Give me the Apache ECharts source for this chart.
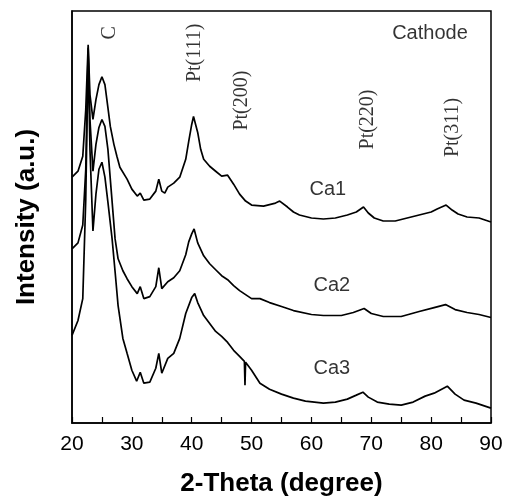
<!DOCTYPE html>
<html>
<head>
<meta charset="utf-8">
<script src="https://cdn.jsdelivr.net/npm/echarts@6/dist/echarts.min.js"></script>
<style>
  html, body { margin: 0; padding: 0; background: #fff; }
  #xrd { width: 507px; height: 502px; }
</style>
</head>
<body>
<div id="xrd"></div>
<script>
// XRD patterns of the cathode catalysts, curves stacked by hand offset (a.u.)
var theta1 = [20.0, 21.0, 21.8, 22.3, 22.7, 23.0, 23.5, 24.0, 24.5, 25.0, 25.5, 26.0, 26.4, 27.0, 27.5, 28.0, 29.2, 30.0, 30.9, 31.4, 32.0, 33.0, 34.0, 34.5, 35.0, 35.5, 36.0, 37.0, 38.0, 39.0, 39.5, 40.0, 40.3, 41.0, 41.5, 42.0, 43.0, 44.0, 45.0, 46.0, 47.0, 48.0, 49.0, 50.0, 52.0, 54.0, 54.7, 56.0, 57.0, 58.0, 60.0, 62.0, 64.0, 66.0, 67.5, 68.7, 69.5, 70.5, 72.0, 74.0, 76.0, 78.0, 80.0, 81.0, 82.5, 83.5, 84.5, 86.0, 88.0, 90.0];
var ca1 = [247, 253, 268, 315, 380, 330, 305, 325, 340, 348, 340, 317, 298, 280, 268, 257, 245, 235, 228, 231, 224, 225, 233, 245, 233, 231, 237, 241, 247, 265, 283, 300, 308, 292, 275, 265, 258, 253, 248, 249, 240, 230, 223, 219, 218, 221, 223, 217, 212, 209, 206, 205, 206, 209, 212, 217, 211, 206, 203, 203, 206, 209, 212, 215, 219, 214, 210, 207, 206, 202];

var theta2 = [20.0, 21.0, 21.8, 22.3, 22.7, 23.0, 23.5, 24.0, 24.5, 25.0, 25.5, 26.0, 26.6, 27.2, 27.7, 28.5, 29.2, 30.0, 30.9, 31.4, 32.0, 33.0, 34.0, 34.5, 35.0, 36.0, 37.0, 38.0, 39.0, 39.5, 40.0, 40.4, 41.0, 42.0, 43.0, 44.0, 45.0, 46.0, 47.0, 48.0, 50.0, 51.4, 53.0, 55.0, 57.0, 60.0, 62.0, 65.0, 67.0, 68.8, 70.0, 72.0, 75.0, 78.0, 80.5, 82.4, 84.0, 86.0, 88.0, 90.0];
var ca2 = [175, 181, 199, 255, 377, 305, 253, 280, 297, 305, 298, 275, 230, 185, 165, 153, 145, 137, 130, 137, 125, 127, 137, 156, 135, 142, 146, 153, 169, 182, 190, 195, 181, 168, 160, 154, 148, 144, 138, 133, 125, 125, 121, 117, 113, 109, 108, 108, 111, 115, 110, 107, 107, 112, 116, 119, 114, 111, 109, 106];

var theta3 = [20.0, 21.0, 21.8, 22.3, 22.7, 23.0, 23.5, 24.0, 24.5, 25.0, 25.5, 26.0, 26.7, 27.2, 27.7, 28.5, 29.2, 30.0, 30.8, 31.4, 32.0, 33.0, 34.0, 34.5, 35.0, 36.0, 37.0, 38.0, 39.0, 40.0, 40.5, 41.0, 42.0, 43.0, 44.0, 45.0, 46.0, 47.0, 48.0, 48.8, 48.9, 49.0, 50.0, 51.4, 53.0, 55.0, 57.0, 59.0, 62.0, 64.0, 66.0, 67.5, 68.6, 69.5, 71.0, 73.0, 75.0, 77.0, 79.0, 80.5, 82.7, 84.0, 85.5, 87.5, 90.0];
var ca3 = [88, 103, 125, 225, 370, 275, 193, 230, 255, 262, 247, 222, 185, 152, 118, 85, 70, 53, 42, 51, 40, 41, 55, 70, 50, 65, 70, 85, 110, 126, 130, 121, 108, 100, 92, 87, 81, 73, 67, 62, 38, 61, 53, 40, 34, 29, 25, 22, 20, 21, 24, 28, 31, 26, 21, 19, 18, 21, 27, 30, 37, 29, 23, 20, 15];

var xTicks = [20, 30, 40, 50, 60, 70, 80, 90];

// peak / sample labels: [2-theta, intensity, text, vertical?]
var annoTheta = [26.35, 40.55, 48.4, 69.45, 83.65, 79.8, 62.75, 63.4, 63.4];
var annoInt = [392, 372, 324, 305, 297, 391, 235, 138, 55];
var annoText = ['C', 'Pt(111)', 'Pt(200)', 'Pt(220)', 'Pt(311)', 'Cathode', 'Ca1', 'Ca2', 'Ca3'];
var annoVertical = [true, true, true, true, true, false, false, false, false];

(function() {
	var chart = echarts.init(document.getElementById('xrd'));

	function pairs(xs, ys) {
		var out = [];
		for (var i = 0; i < xs.length; i++) out.push([xs[i], ys[i]]);
		return out;
	}

	var labels = [];
	for (var i = 0; i < annoText.length; i++) {
		labels.push({
			value: [annoTheta[i], annoInt[i]],
			label: {
				formatter: annoText[i],
				rotate: annoVertical[i] ? 90 : 0,
				fontFamily: annoVertical[i] ? 'Liberation Serif' : 'Liberation Sans'
			}
		});
	}

	function curve(name, d) {
		return {
			name: name,
			type: 'line',
			data: d,
			showSymbol: false,
			lineStyle: { color: '#000', width: 1.7 },
			silent: true
		};
	}

	var option = {
		animation: false,
		grid: {
			left: 72, right: 16, top: 11, bottom: 77,
			show: true, borderColor: '#000', borderWidth: 1.5
		},
		xAxis: {
			type: 'value',
			min: 20, max: 90, interval: 10,
			name: '2-Theta (degree)',
			nameLocation: 'middle',
			nameGap: 48,
			nameTextStyle: { fontFamily: 'Liberation Sans', fontWeight: 'bold', fontSize: 26, color: '#000' },
			axisLine: { lineStyle: { color: '#000', width: 1.5 } },
			axisTick: { inside: true, length: 6, lineStyle: { color: '#000', width: 1.2 } },
			minorTick: { show: true, splitNumber: 2, length: 6, lineStyle: { color: '#000', width: 1.2 } },
			axisLabel: {
				fontFamily: 'Liberation Sans', fontSize: 21, color: '#000', margin: 11,
				formatter: function(v) { return xTicks.indexOf(v) >= 0 ? String(v) : ''; }
			},
			splitLine: { show: false }
		},
		yAxis: {
			type: 'value',
			min: 0, max: 414,
			name: 'Intensity (a.u.)',
			nameLocation: 'middle',
			nameGap: 32,
			nameTextStyle: { fontFamily: 'Liberation Sans', fontWeight: 'bold', fontSize: 26, color: '#000' },
			axisLine: { show: true, lineStyle: { color: '#000', width: 1.5 } },
			axisTick: { show: false },
			axisLabel: { show: false },
			splitLine: { show: false }
		},
		series: [
			curve('Ca1', pairs(theta1, ca1)),
			curve('Ca2', pairs(theta2, ca2)),
			curve('Ca3', pairs(theta3, ca3)),
			{
				type: 'scatter',
				symbolSize: 0,
				silent: true,
				data: labels,
				label: {
					show: true, position: 'inside',
					fontSize: 20, color: '#000'
				}
			}
		]
	};

	chart.setOption(option);
})();
</script>
</body>
</html>
